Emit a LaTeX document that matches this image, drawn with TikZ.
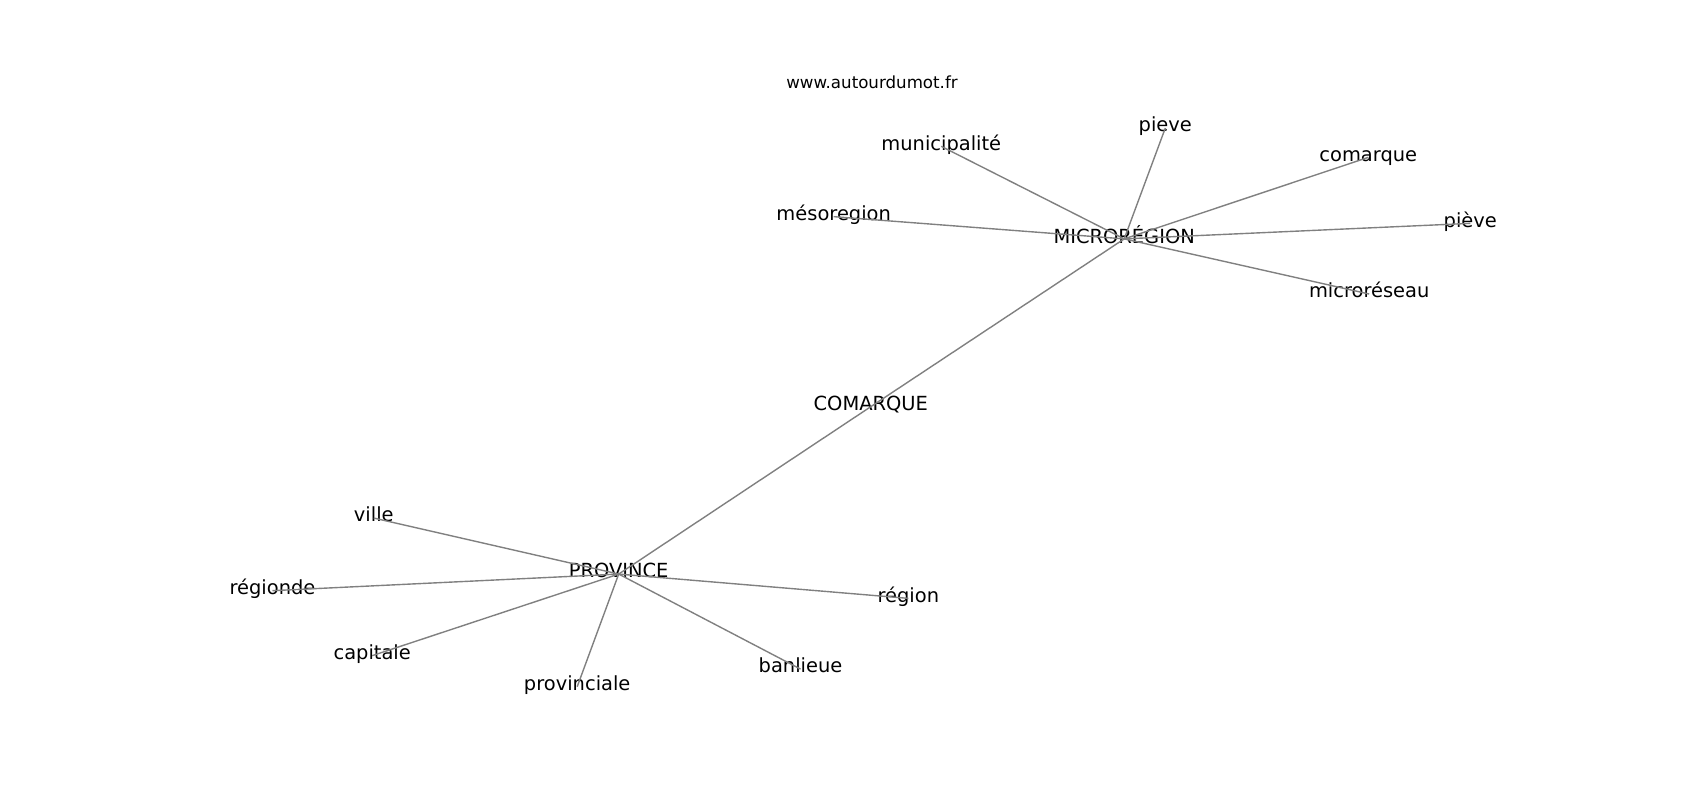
\documentclass[tikz,border=0pt]{standalone}
\usepackage{fontspec}
\setmainfont{DejaVu Sans}
\definecolor{edgegray}{RGB}{128,128,128}
\tikzset{
  lab/.style={anchor=base, inner sep=0pt, outer sep=0pt, text depth=0.236em, text height=0.76em, font=\fontsize{14}{16}\selectfont, text=black},
  tall/.style={text height=0.93em},
  edge/.style={draw=edgegray, line width=1pt},
  titlelab/.style={anchor=base, inner sep=0pt, font=\fontsize{12}{14}\selectfont, text=black}
}
\begin{document}
\begin{tikzpicture}[x=0.72pt,y=-0.72pt]
\useasboundingbox (0,0) rectangle (1700,800);
\fill[white] (0,0) rectangle (1700,800);
\begin{scope}[yshift=-0.72pt]
\node[lab,tall] (mic) at (1124.2,242.7) {MICRORÉGION};
\node[lab] (mun) at (941.3,149) {municipalité};
\node[lab] (meso) at (833.7,219.3) {mésoregion};
\node[lab] (pieve) at (1165.3,130.7) {pieve};
\node[lab] (comq) at (1368.3,160) {comarque};
\node[lab] (pieve2) at (1470.3,226) {piève};
\node[lab] (micres) at (1369.2,296.7) {microréseau};
\node[lab] (COMQ) at (870.8,409.3) {COMARQUE};
\node[lab] (prov) at (618.7,576.7) {PROVINCE};
\node[lab] (ville) at (373.8,520.7) {ville};
\node[lab] (regde) at (272.5,593.3) {régionde};
\node[lab] (capi) at (372.2,658.3) {capitale};
\node[lab] (region) at (908.3,601) {région};
\node[lab] (banl) at (800.5,671.7) {banlieue};
\node[lab] (provl) at (577.2,689.3) {provinciale};
\node[titlelab] (title) at (872,87.3) {www.autourdumot.fr};
\end{scope}
\foreach \t in {mun,meso,pieve,comq,pieve2,micres,COMQ}
  \draw[edge] (mic.center) -- (\t.center);
\foreach \t in {ville,regde,capi,region,banl,provl,COMQ}
  \draw[edge] (prov.center) -- (\t.center);
\end{tikzpicture}
\end{document}
